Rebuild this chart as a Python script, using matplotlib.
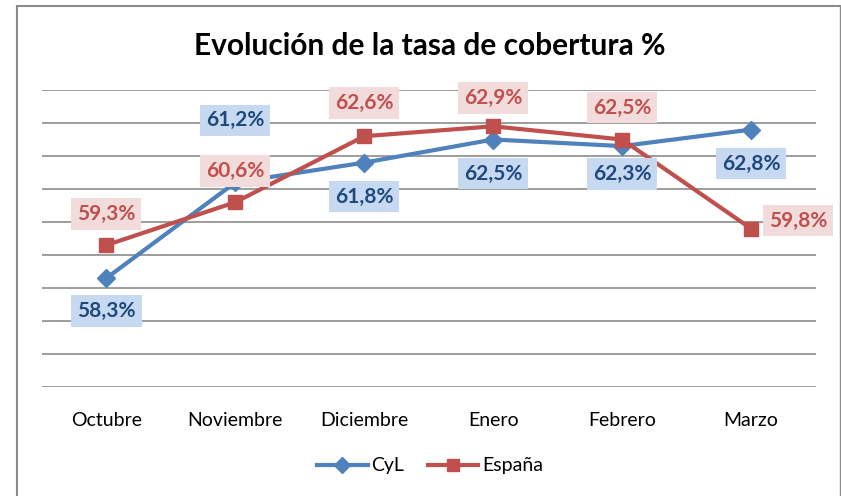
import matplotlib
matplotlib.use("Agg")
import matplotlib.pyplot as plt
from matplotlib.lines import Line2D

plt.rcParams['font.family'] = ['Lato', 'DejaVu Sans']

categories = ["Octubre", "Noviembre", "Diciembre", "Enero", "Febrero", "Marzo"]
cyl = [58.3, 61.2, 61.8, 62.5, 62.3, 62.8]
espana = [59.3, 60.6, 62.6, 62.9, 62.5, 59.8]
series_names = ["CyL", "España"]

def fmt(v):
    return f"{v:.1f}%".replace(".", ",")

W, H = 841, 496
fig = plt.figure(figsize=(W / 100, H / 100), dpi=100)
ax = fig.add_axes([42 / W, 1 - 387 / H, (815.5 - 42) / W, (387 - 90) / H])

x = list(range(len(categories)))
c_blue = "#4F81BD"
c_red = "#C0504D"

ax.plot(x, cyl, color=c_blue, lw=3, marker="D", ms=9, zorder=3)
ax.plot(x, espana, color=c_red, lw=3, marker="s", ms=10, zorder=4)

ax.set_xlim(-0.5, len(categories) - 0.5)
ax.set_ylim(55, 64)
ax.set_yticks(range(55, 65))
ax.yaxis.grid(True, color="#8C8C8C", lw=1.2)
ax.set_axisbelow(True)
ax.tick_params(axis="y", left=False, labelleft=False)
ax.tick_params(axis="x", length=0, pad=18, labelsize=14)
ax.set_xticks(x)
ax.set_xticklabels(categories, color="#000000")
for s in ax.spines.values():
    s.set_visible(False)

# label offsets in pixels (dx, dy) relative to point
cyl_off = [(0, -33), (0, 62), (0, -34), (0, -34), (0, -28), (0, -34)]
esp_off = [(0, 31), (0, 31), (0, 33), (0, 28), (0, 32), (47, 8)]

px2pt = 72 / 100
for i, v in enumerate(cyl):
    dx, dy = cyl_off[i]
    ax.annotate(fmt(v), (x[i], v), xytext=(dx * px2pt, dy * px2pt), textcoords="offset points",
                ha="center", va="center", fontsize=15, fontweight="bold", color="#1F497D",
                bbox=dict(boxstyle="square,pad=0.28", fc="#C6D9F1", ec="none"), zorder=5)
for i, v in enumerate(espana):
    dx, dy = esp_off[i]
    ax.annotate(fmt(v), (x[i], v), xytext=(dx * px2pt, dy * px2pt), textcoords="offset points",
                ha="center", va="center", fontsize=15, fontweight="bold", color=c_red,
                bbox=dict(boxstyle="square,pad=0.28", fc="#F2DCDB", ec="none"), zorder=5)

fig.text(430 / W, 1 - 46 / H, "Evolución de la tasa de cobertura %", ha="center", va="center",
         fontsize=21.5, fontweight="bold", color="#000000")

handles = [Line2D([], [], color=c_blue, lw=3, marker="D", ms=8),
           Line2D([], [], color=c_red, lw=3, marker="s", ms=9)]
fig.legend(handles, series_names, loc="center", bbox_to_anchor=(430 / W, 1 - 466 / H),
           ncol=2, frameon=False, fontsize=14, handlelength=2.6, columnspacing=1.2,
           handletextpad=0.2)

# outer chart border
fig.add_artist(Line2D([17 / W, 17 / W], [0, 1 - 6 / H], transform=fig.transFigure, color="#8C8C8C", lw=1.5))
fig.add_artist(Line2D([17 / W, 839.5 / W], [1 - 6 / H, 1 - 6 / H], transform=fig.transFigure, color="#8C8C8C", lw=1.5))
fig.add_artist(Line2D([839.5 / W, 839.5 / W], [0, 1 - 6 / H], transform=fig.transFigure, color="#8C8C8C", lw=1.0))

fig.savefig("out.png", dpi=100)
